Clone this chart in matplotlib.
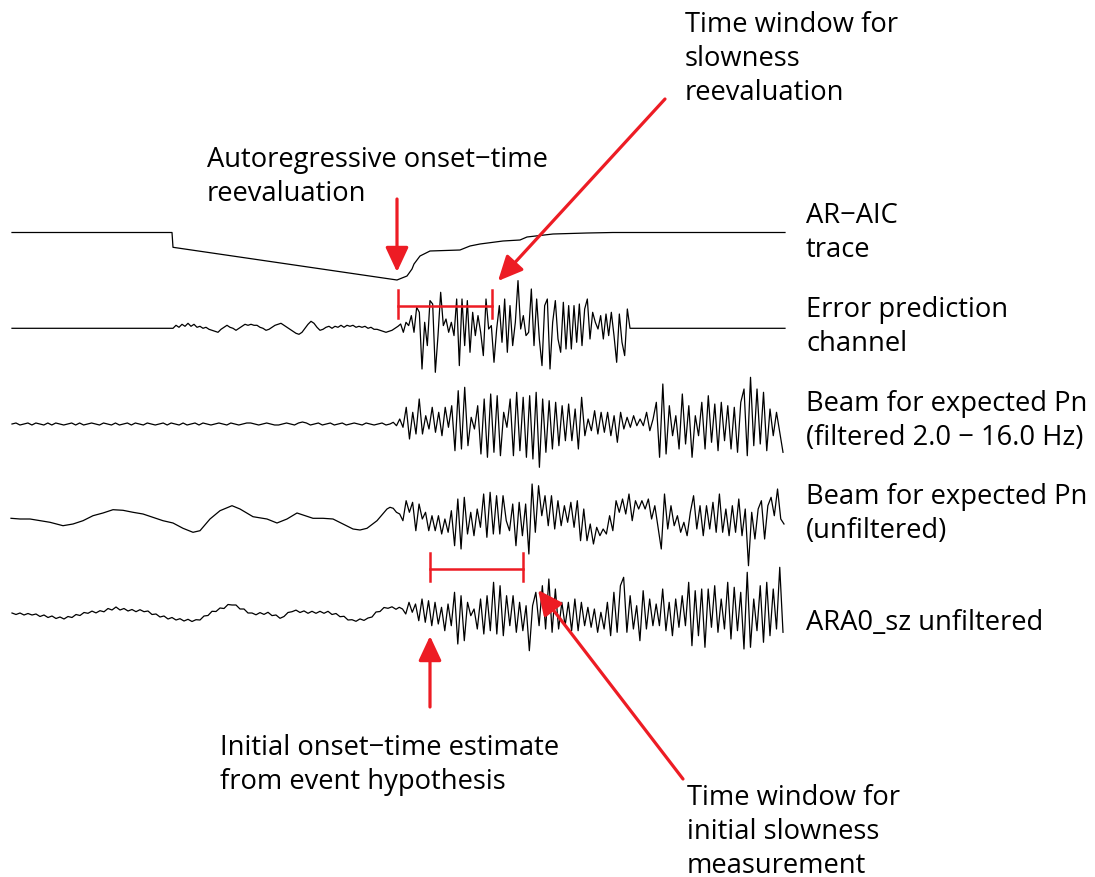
import numpy as np
import matplotlib.pyplot as plt

plt.rcParams['font.family'] = ['Open Sans', 'DejaVu Sans']

# time axis runs in samples across the panel (left edge = 12, right edge = 785)
# ---- AR-AIC trace (piecewise)
aic_t = [12, 172, 173, 397, 407, 412, 414, 420, 430, 460, 470, 480, 503, 520, 527, 553, 587, 613, 785]
aic_val = [0, 0, -14.8, -47.5, -43.5, -36.5, -31.5, -23.5, -18.5, -17.5, -13.5, -11.5,
           -8.5, -7.5, -4.5, -1.5, -0.5, 0, 0]

# ---- error prediction channel
err_quiet = [0, 3, 1, 4, 2, 5, 2, 4, 1, 2, 0, 1, -1, -2, -3, -4, -1, 1, 3, 1, 0, -2, 0, 2, 4, 3,
             4, 3, 3, 1, 0, -2, -1, 1, 3, 4, 5, 3, 1, -1, -3, -5, -6, -4, 0, 4, 7, 5, 1, -2,
             -1, 1, 2, 0, 2, 1, 3, 1, 3, 2, 3, 1, 2, 1, 2, 0, 1, -1, -1, -2, -3, -4, -3, -2, 0, 2]
err_loud = [-0.7, 4.3, -4, 6, 2.7, 12.7, -4, 21, 16, -40.7, 6, -17.3, 27.7, 24.3, -44, -7.3,
            36, 2.7, 9.3, -4, 6, -7.3, 29.3, -37.3, 29.3, -17.3, 27.7, -24, 16, -7.3, 12.7,
            -4, -27.3, 29.3, -0.7, 2.7, -34, -0.7, 22.7, -14, 29.3, -24, 22.7, -17.3, 6,
            47.7, -0.7, 12.7, -7.3, -4, 39.3, -17.3, 29.3, -10.7, -37.3, 22.7, 29.3, -40.7,
            6, 27.7, -10.7, -24, 26, -20.7, 22.7, -20.7, 22.7, -14, 24.3, -17.3, 19.3, 29.3,
            -10.7, 16, 6, -0.7, 12.7, -10.7, 14.3, -7.3, 16, -7.3, -34, 14.3, -14, -27.3,
            19.3, 0]

# ---- beam for expected Pn, filtered 2-16 Hz
bf_quiet = [0, 1, -1, 0, 1, -1, 1, 0, -1, 1, -1, 1, 0, -1, 0, 1, -1, 1, -1, 0, 1, 0, -1, 1,
            0, -1, 1, -1, 0, 1, -1, 1, 0, -1, 1, 0, -1, 0, 1, -1, 1, 0, -1, 1, -1, 0, 1, -1,
            1, 0, -1, 0, 1, 0, -1, 1, 0, -1, 0, 1, 1, 0, -1, 0, 1, 0, -1, -1, 0, 1, 0, -1, 1,
            2, 1, -1, 0, 1, -1, 0, 1, -1, 0, 1, -1, 0, 1, 0, -1, 1, 0, -1, 0, 1, -1, 0]
bf_loud = [0, 1.7, -1.7, 5, -3.3, 16.7, -15, 11.7, -10, 25, -10, 8.3, -5, 16.7, -8.3, 11.7,
           -11.7, 16.7, -3.3, 18.3, -26.7, 33.3, -25, 36.7, -21.7, 6.7, -5, 18.3, -30, 25,
           -33.3, 30, -28.3, 28.3, -31.7, 11.7, -3.3, 25, -31.7, 31.7, -26.7, 26.7, -33.3,
           28.3, -35, 31.7, -43.3, 25, -28.3, 23.3, -25, 21.7, -21.7, 18.3, -16.7, 20, -16.7,
           15, -25, 26.7, -11.7, 5, -6.7, 13.3, -10, 11.7, -8.3, 11.7, -11.7, 8.3, -18.3,
           11.7, -5, 6.7, -3.3, 8.3, -1.7, 5, -1.7, 11.7, -6.7, 5, 21.7, -33.3, 40, -30,
           18.3, -11.7, 8.3, -25, 30, -20, 18.3, -33.3, 8.3, -11.7, 21.7, -25, 28.3, -18.3,
           20, -26.7, 21.7, -16.7, 18.3, -25, 16.7, -28.3, 21.7, 35, -31.7, 46.7, -21.7, 35,
           -20, 31.7, -26.7, 15, -11.7, 11.7, -8.3, -28.3]

# ---- beam for expected Pn, unfiltered
bu_quiet_t = [11, 20, 30, 40, 50, 63, 73, 83, 93, 103, 113, 123, 133, 143, 153, 163, 173, 183,
              193, 200, 210, 220, 232, 240, 253, 267, 277, 287, 297, 305, 313, 323, 333, 343,
              353, 360, 367, 377, 387]
bu_quiet = [-4.3, -5, -5, -6.7, -8.3, -11.7, -10, -6.7, -1.7, 1, 4.3, 3.7, 1.7, 0, -3.3, -6.7,
            -9, -14.3, -18.3, -16.7, -5, 3.3, 8.3, 5, -2.7, -5, -9, -5, 1, -1.7, -4.3, -4.3,
            -5, -10, -15, -16, -14.3, -6.7, 5]
bu_loud = [6.7, 5.7, 1.7, 0, -6.7, 13.3, 1.7, 11.7, -16.7, 10, -5, 1.7, -16.7, -1.7, -16.7,
           -1.7, -20, -5, -18.3, 3.3, -31.7, 15, -35, 16.7, -20, 1.7, -21.7, 5, -13.3, 20,
           -23.3, 21.7, -20, 18.3, -20, 18.3, -6.7, -16.7, 10, -31.7, 11.7, -21.7, 10, -40,
           30, -18.3, 28.3, -1.7, 18.3, -11.7, 18.3, -15, 13.3, -11.7, 8.3, -8.3, 11.7,
           -13.3, 13.3, -26.7, 5, -26.7, -10, -30, -13.3, -21.7, -15, -20, -1.7, -16.7, 13.3,
           1.7, 15, 0, 20, -6.7, 13.3, 5, 13.3, 5, 15, -5, 8.3, -13.3, -35, 20, -15, 8.3,
           -11.7, -1.7, -18.3, -8.3, -21.7, 1.7, 18.3, -15, 8.3, -21.7, 8.3, -15, 11.7, -18.3,
           20, -18.3, 5, -21.7, 8.3, -18.3, 15, -21.7, 5, -51.7, 1.7, -25, 5, 13.3, -25, 8.3,
           16.7, -1.7, 25, -5, -10]

# ---- ARA0_sz unfiltered
ara_quiet = [1, -0.5, 1, -1, 0.5, -1, 0, -2.5, -1, -3.5, -2, -4.5, -3, -5, -2.5, -3.5, -0.5,
             -1.5, 1.5, 0.7, 2.9, 1.1, 3.3, 2.2, 5.5, 4, 7, 4, 5.5, 3, 4.5, 2.3, 4.3, 2.3, 3,
             -0.5, 0, -3, -2, -5, -3.5, -6, -4.7, -7, -5.3, -7.5, -5.7, -6, -2, -1.5, 2.7,
             2.5, 6, 5.5, 9.5, 9, 9, 5, 5, 1, 1, -0.8, 1.4, -0.4, 1.7, -1.6, -1, -4.3, -2.5,
             1.5, 2.3, 3.9, 1.5, 3.1, 0.7, 2.7, 0.7, 2.7, 0.7, 2.7, -0.5, 0.5, -2.7, -2.3, -6,
             -5.7, -7.3, -4.9, -6.4, -4, -3, 2, 2.5, 6.5, 5.7, 7.2, 4.7]
ara_loud = [7.7, 6.7, 5, 0, 11.7, 1.7, 10, -6.7, 15, -8.3, 13.3, -11.7, 11.7, -10, 6.7, -16.7,
            10, -11.7, 21.7, -30, 18.3, -26.7, 11.7, -1.7, 5, -15, 15, -20, 18.3, -16.7, 31.7,
            -20, 28.3, -21.7, 18.3, -11.7, 18.3, -18.3, 11.7, -16.7, 8.3, -36.7, 8.3, 21.7,
            -11.7, 28.3, -15, 35, -18.3, 25, -15, 11.7, -11.7, 11.7, -16.7, 15, -16.7, 11.7,
            -11.7, 6.7, -13.3, 5, -18.3, 1.7, -15, 11.7, -21.7, 21.7, -18.3, 28.3, 36.7,
            -18.3, 18.3, -15, 8.3, -26.7, 23.3, -15, 15, -11.7, 10, -11.7, 25, -16.7, 11.7,
            -21.7, 15, -13.3, 18.3, -11.7, 31.7, -31.7, 23.3, -21.7, 25, -33.3, 25, -13.3,
            28.3, -18.3, 15, -15, 31.7, -25, 26.7, -16.7, 21.7, -35, 41.7, -33.3, 15, -16.7,
            28.3, -28.3, 31.7, -21.7, 25, -15, 46.7, -18.3]

# trace baselines (pixel rows) and label blocks
base_aic, base_err, base_bf, base_bu, base_ara = 233.5, 329.3, 425, 515, 615
red = '#ed1c24'

fig = plt.figure(figsize=(10.95, 8.78), dpi=100)
ax = fig.add_axes([0, 0, 1, 1])
ax.set_xlim(0, 1095)
ax.set_ylim(878, 0)
ax.axis('off')

kw = dict(color='black', lw=0.9)
ax.plot(aic_t, base_aic - np.array(aic_val), **kw)

# error channel: flat, quiet noise, signal, flat
t_eq = np.linspace(173, 398, len(err_quiet))
t_el = np.linspace(398, 630, len(err_loud))
err_t = np.concatenate([[12, 172], t_eq, t_el[1:], [785]])
err_v = np.concatenate([[0, 0], err_quiet, err_loud[1:], [0]])
ax.plot(err_t, base_err - err_v, **kw)

t_bq = np.linspace(12, 390, len(bf_quiet))
t_bl = np.linspace(390, 783, len(bf_loud))
ax.plot(np.concatenate([t_bq, t_bl[1:]]), base_bf - np.concatenate([bf_quiet, bf_loud[1:]]), **kw)

t_ul = np.linspace(390, 784, len(bu_loud))
ax.plot(np.concatenate([bu_quiet_t, t_ul]), base_bu - np.concatenate([bu_quiet, bu_loud]), **kw)

t_aq = np.linspace(12, 396, len(ara_quiet))
t_al = np.linspace(396, 783, len(ara_loud))
ax.plot(np.concatenate([t_aq, t_al[1:]]), base_ara - np.concatenate([ara_quiet, ara_loud[1:]]), **kw)

# labels: (x, first baseline, lines)
labels = [
    (685, 32, ['Time window for', 'slowness', 'reevaluation']),
    (207, 167, ['Autoregressive onset\u2212time', 'reevaluation']),
    (806, 223, ['AR\u2212AIC', 'trace']),
    (806, 317, ['Error prediction', 'channel']),
    (806, 411, ['Beam for expected Pn', '(filtered 2.0 \u2212 16.0 Hz)']),
    (806, 504, ['Beam for expected Pn', '(unfiltered)']),
    (806, 630, ['ARA0_sz unfiltered']),
    (220, 755, ['Initial onset\u2212time estimate', 'from event hypothesis']),
    (687, 805, ['Time window for', 'initial slowness', 'measurement']),
]
for x, y0, lines in labels:
    for i, s in enumerate(lines):
        ax.text(x, y0 + i * 34, s, fontsize=19.7, va='baseline', ha='left')

# red arrows
arrows = [((397, 200), (397, 273)), ((665, 100), (498, 282)),
          ((430, 708), (430, 637)), ((683, 780), (538, 591))]
for start, tip in arrows:
    ax.annotate('', xy=tip, xytext=start,
                arrowprops=dict(arrowstyle='-|>,head_length=1.5,head_width=0.7',
                                mutation_scale=10, color=red, lw=2.3,
                                shrinkA=0, shrinkB=0))

# time-window brackets
for x0, x1, yb in [(398, 492, 306.5), (430, 523, 570)]:
    ax.plot([x0, x1], [yb, yb], color=red, lw=1.8)
    ax.plot([x0, x0], [yb - 16, yb + 12], color=red, lw=1.8)
    ax.plot([x1, x1], [yb - 16, yb + 12], color=red, lw=1.8)

fig.savefig('out.png', dpi=100)
